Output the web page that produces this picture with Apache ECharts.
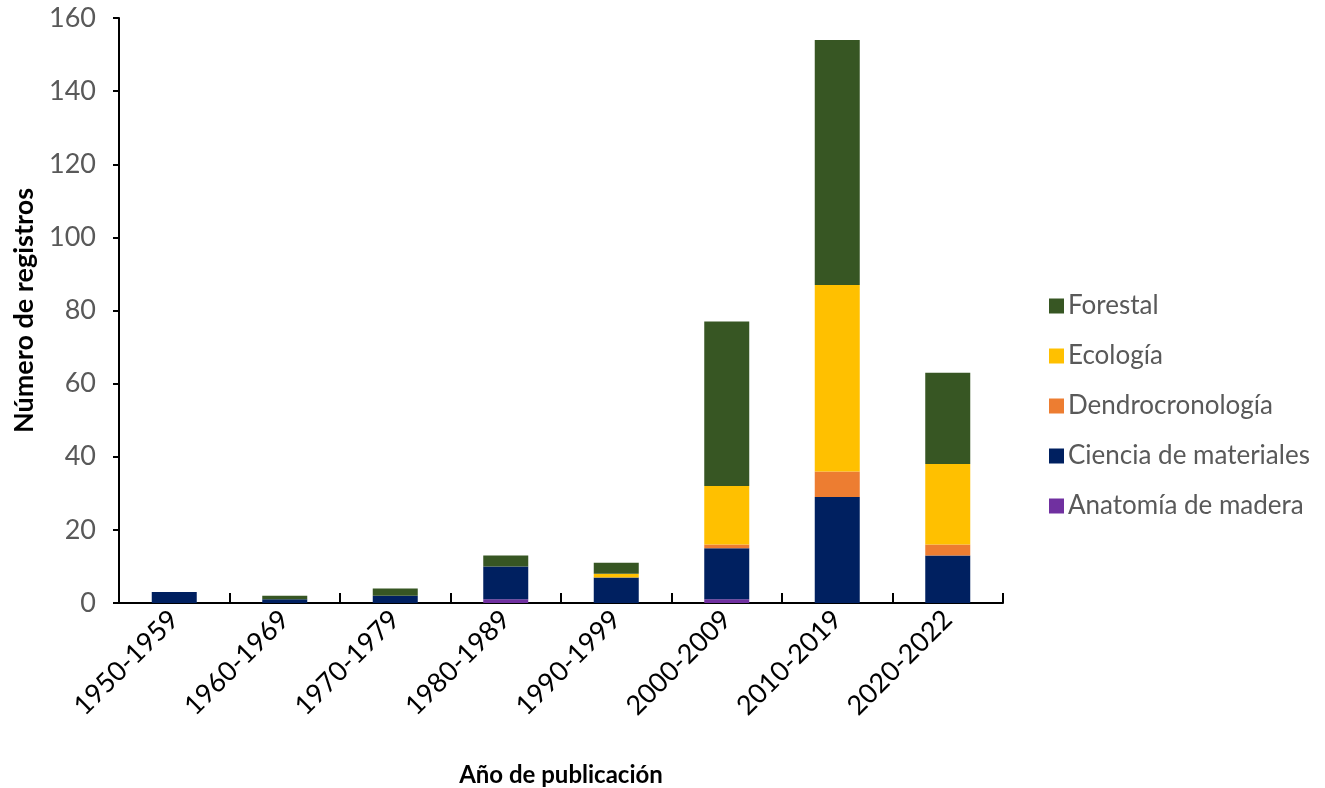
<!DOCTYPE html>
<html>
<head>
<meta charset="utf-8">
<script src="https://cdn.jsdelivr.net/npm/echarts@6/dist/echarts.min.js"></script>
<style>
  html, body { margin: 0; padding: 0; background: #fff; }
  #chart { width: 1325px; height: 788px; }
</style>
</head>
<body>
<div id="chart"></div>
<script>
// Publication periods
const periods = ['1950-1959', '1960-1969', '1970-1979', '1980-1989', '1990-1999', '2000-2009', '2010-2019', '2020-2022'];

// Records per field, stacked bottom to top
const anatomia = [0, 0, 0, 1, 0, 1, 0, 0];
const ciencia = [3, 1, 2, 9, 7, 14, 29, 13];
const dendro = [0, 0, 0, 0, 0, 1, 7, 3];
const ecologia = [0, 0, 0, 0, 1, 16, 51, 22];
const forestal = [0, 1, 2, 3, 3, 45, 67, 25];

const yTicks = { min: 0, max: 160, interval: 20 };

const FONT = 'Lato';

const chart = echarts.init(document.getElementById('chart'), null, { renderer: 'canvas' });

function bar(name, data, color) {
  return {
    name: name,
    type: 'bar',
    stack: 'total',
    data: data,
    barWidth: 45,
    itemStyle: { color: color },
    emphasis: { disabled: true }
  };
}

chart.setOption({
  animation: false,
  backgroundColor: '#ffffff',
  grid: { left: 119, right: 322, top: 18, bottom: 185, containLabel: false, outerBoundsMode: 'none' },
  legend: {
    orient: 'vertical',
    left: 1044,
    top: 287,
    itemWidth: 15,
    itemHeight: 15,
    itemGap: 22,
    icon: 'rect',
    textStyle: { fontFamily: FONT, fontSize: 26, color: '#595959', lineHeight: 28, padding: [0, 0, 0, -1] },
    data: ['Forestal', 'Ecología', 'Dendrocronología', 'Ciencia de materiales', 'Anatomía de madera']
  },
  xAxis: {
    type: 'category',
    data: periods,
    name: 'Año de publicación',
    nameLocation: 'middle',
    nameGap: 160,
    nameTextStyle: { fontFamily: FONT, fontSize: 24, fontWeight: 'bold', color: '#000' },
    axisLine: { lineStyle: { color: '#000', width: 2 } },
    axisTick: { show: true, inside: true, length: 10, lineStyle: { color: '#000', width: 2 } },
    axisLabel: { rotate: 45, fontFamily: FONT, fontSize: 27, color: '#000', margin: 12 }
  },
  yAxis: {
    type: 'value',
    min: yTicks.min,
    max: yTicks.max,
    interval: yTicks.interval,
    name: 'Número de registros',
    nameLocation: 'middle',
    nameGap: 74,
    nameTextStyle: { fontFamily: FONT, fontSize: 27, fontWeight: 'bold', color: '#000' },
    axisLine: { show: true, lineStyle: { color: '#000', width: 2 } },
    axisTick: { show: true, length: 6, lineStyle: { color: '#000', width: 2 } },
    axisLabel: { fontFamily: FONT, fontSize: 27, color: '#595959', margin: 23 },
    splitLine: { show: false }
  },
  series: [
    bar('Anatomía de madera', anatomia, '#7030A0'),
    bar('Ciencia de materiales', ciencia, '#002060'),
    bar('Dendrocronología', dendro, '#ED7D31'),
    bar('Ecología', ecologia, '#FFC000'),
    bar('Forestal', forestal, '#375623')
  ]
});
</script>
</body>
</html>
